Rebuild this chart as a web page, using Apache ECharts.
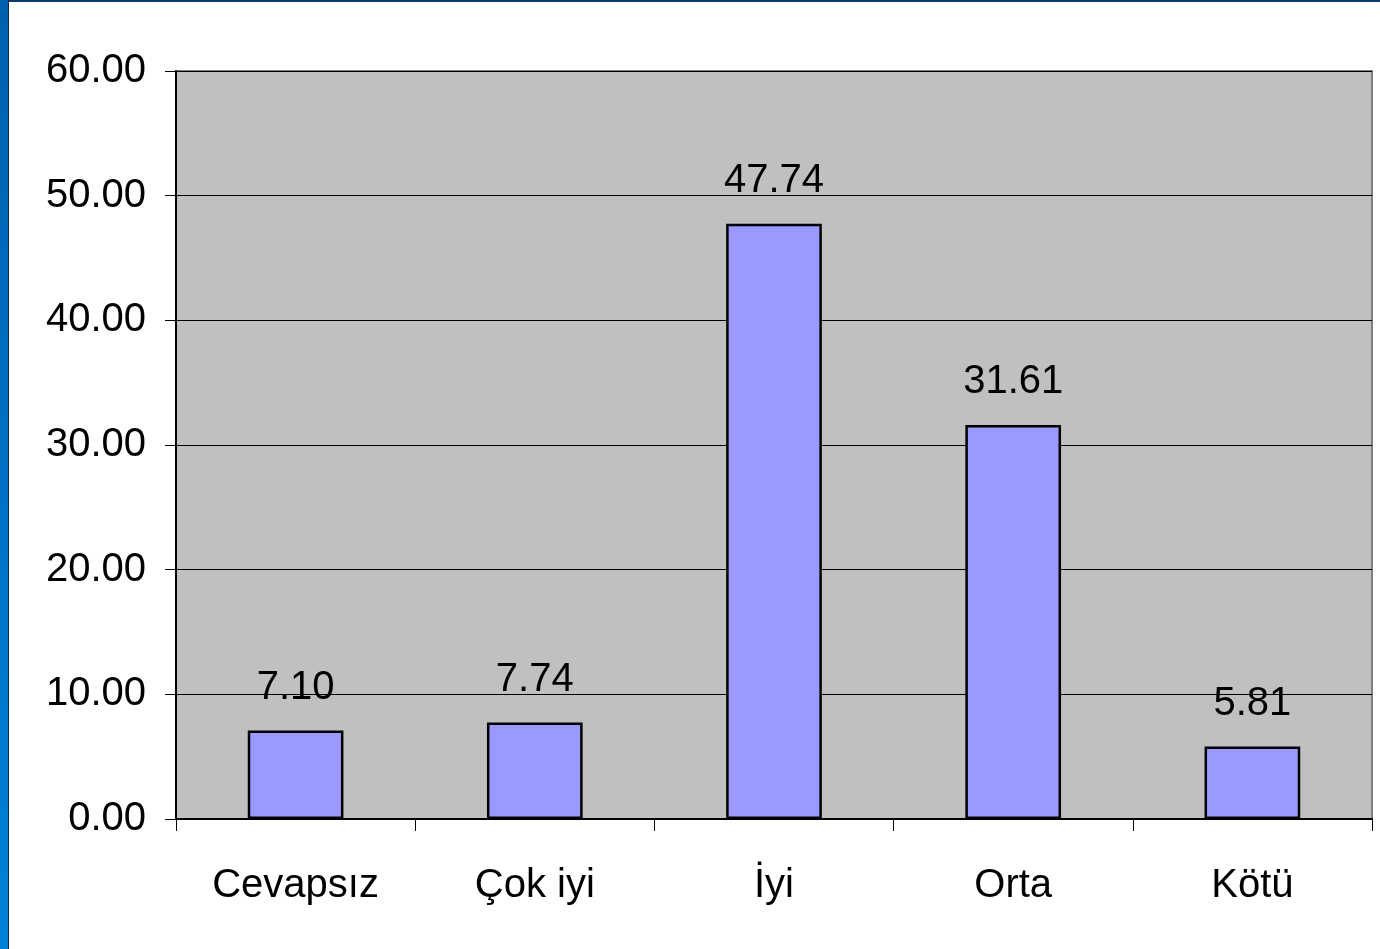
<!DOCTYPE html>
<html>
<head>
<meta charset="utf-8">
<script src="https://cdn.jsdelivr.net/npm/echarts@6/dist/echarts.min.js"></script>
<style>
  html, body { margin: 0; padding: 0; background: #fff; }
  #wrap { position: relative; width: 1380px; height: 949px; overflow: hidden; }
  #topbar { position: absolute; left: 0; top: 0; width: 1380px; height: 2px; background: #0a3a6a; }
  #leftbar { position: absolute; left: 0; top: 0; width: 8px; height: 949px;
    background: linear-gradient(#0060b0, #0082d8); border-right: 1px solid #10263e; }
  #chart { position: absolute; left: 0; top: 0; width: 1380px; height: 949px; }
</style>
</head>
<body>
<div id="wrap">
  <div id="chart"></div>
  <div id="topbar"></div>
  <div id="leftbar"></div>
</div>
<script>
// 数据
const categories = ['Cevapsız', 'Çok iyi', 'İyi', 'Orta', 'Kötü']
const values = [7.10, 7.74, 47.74, 31.61, 5.81]

const FONT = '"Liberation Sans", Arial, sans-serif'
const FS = 40

const chart = echarts.init(document.getElementById('chart'))
chart.setOption({
  animation: false,
  grid: {
    left: 176, right: 8, top: 71, bottom: 130,
    show: true,
    backgroundColor: '#c0c0c0',
    borderColor: '#808080',
    borderWidth: 2
  },
  xAxis: {
    type: 'category',
    data: categories,
    boundaryGap: true,
    axisLine: { lineStyle: { color: '#000', width: 2 } },
    axisTick: { show: true, length: 12, lineStyle: { color: '#000' } },
    axisLabel: { color: '#000', fontSize: FS, fontFamily: FONT, margin: 47 }
  },
  yAxis: {
    type: 'value',
    min: 0, max: 60, interval: 10,
    axisLine: { show: true, lineStyle: { color: '#000', width: 2 } },
    axisTick: { show: true, length: 11, lineStyle: { color: '#000' } },
    axisLabel: {
      color: '#000', fontSize: FS, fontFamily: FONT, margin: 30,
      padding: [5, 0, 0, 0],
      formatter: v => v.toFixed(2)
    },
    splitLine: { show: true, lineStyle: { color: '#000', width: 1 } }
  },
  series: [{
    type: 'bar',
    data: values,
    barWidth: '40%',
    itemStyle: { color: '#9999ff', borderColor: '#000', borderWidth: 2.5 },
    label: {
      show: true,
      position: 'top',
      distance: 23,
      color: '#000',
      fontSize: FS,
      fontFamily: FONT,
      formatter: p => p.value.toFixed(2)
    }
  }]
})
</script>
</body>
</html>
